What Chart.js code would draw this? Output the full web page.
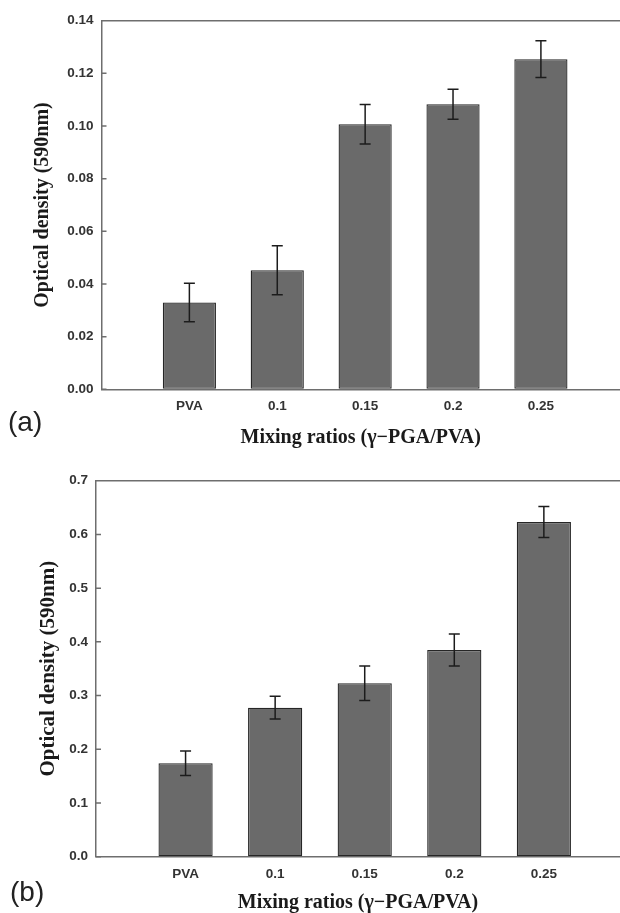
<!DOCTYPE html>
<html>
<head>
<meta charset="utf-8">
<script src="https://cdn.jsdelivr.net/npm/chart.js@4.4.0/dist/chart.umd.min.js"></script>
<style>
  body { margin: 0; background: #fff; width: 620px; height: 913px; position: relative; overflow: hidden; }
  .panel { position: absolute; left: 0; }
  .tag { position: absolute; font: 28px "Liberation Sans", Arial, sans-serif; color: #222; }
</style>
</head>
<body>
<div class="panel" style="top:0"><canvas id="chartA" width="620" height="460"></canvas></div>
<div class="panel" style="top:460px"><canvas id="chartB" width="620" height="453"></canvas></div>
<div class="tag" style="left:8px; top:406px">(a)</div>
<div class="tag" style="left:10px; top:876px">(b)</div>
<script>
// values
const categories = ['PVA', '0.1', '0.15', '0.2', '0.25'];
const odA = [0.0330, 0.0452, 0.1007, 0.1083, 0.1254];
const errA = [0.0073, 0.0093, 0.0075, 0.0057, 0.0070];
const odB = [0.174, 0.2775, 0.3228, 0.3848, 0.6232];
const errB = [0.023, 0.021, 0.032, 0.030, 0.029];
const yTicksA = [0, 0.02, 0.04, 0.06, 0.08, 0.10, 0.12, 0.14];
const yTicksB = [0, 0.1, 0.2, 0.3, 0.4, 0.5, 0.6, 0.7];

const axisColor = '#6e6e6e';
const tickFont = { family: '"Liberation Sans", Arial, sans-serif', size: 13.5, weight: 'bold' };
const titleFamily = '"Liberation Serif", "Times New Roman", serif';

// error bars, top frame line and inward y ticks
const extras = {
    id: 'extras',
    afterDatasetsDraw(chart, args, opts) {
        const ctx = chart.ctx;
        const xs = chart.scales.x, ys = chart.scales.y;
        const vals = chart.data.datasets[0].data;
        ctx.save();
        ctx.strokeStyle = '#1c1c1c';
        ctx.lineWidth = 1.5;
        vals.forEach((p, i) => {
            const x = xs.getPixelForValue(p.x);
            const y1 = ys.getPixelForValue(p.y + opts.err[i]);
            const y2 = ys.getPixelForValue(p.y - opts.err[i]);
            ctx.beginPath();
            ctx.moveTo(x, y1); ctx.lineTo(x, y2);
            ctx.moveTo(x - 5.5, y1); ctx.lineTo(x + 5.5, y1);
            ctx.moveTo(x - 5.5, y2); ctx.lineTo(x + 5.5, y2);
            ctx.stroke();
        });
        const a = chart.chartArea;
        ctx.strokeStyle = axisColor;
        ctx.beginPath();
        ctx.moveTo(a.left, a.top); ctx.lineTo(a.right, a.top);
        ys.ticks.forEach(t => {
            const y = ys.getPixelForValue(t.value);
            ctx.moveTo(a.left, y); ctx.lineTo(a.left + 5, y);
        });
        ctx.stroke();
        ctx.restore();
    }
};

function makeChart(id, values, errs, yTicks, decimals, dims) {
    return new Chart(document.getElementById(id), {
        type: 'bar',
        data: {
            datasets: [{
                data: values.map((v, i) => ({ x: i + 1, y: v })),
                backgroundColor: '#6a6a6a',
                borderColor: '#262626',
                borderWidth: 1.3,
                borderSkipped: false,
                categoryPercentage: 1,
                barPercentage: 0.605
            }]
        },
        options: {
            responsive: false,
            devicePixelRatio: 1,
            animation: false,
            layout: { padding: { top: dims.top, left: 0, right: 0, bottom: 0 } },
            plugins: {
                legend: { display: false },
                tooltip: { enabled: false },
                extras: { err: errs }
            },
            scales: {
                x: {
                    type: 'linear',
                    offset: false,
                    min: 0,
                    max: dims.xMax,
                    afterBuildTicks: s => { s.ticks = categories.map((c, i) => ({ value: i + 1 })); },
                    afterFit: s => { s.height = dims.xHeight; },
                    grid: { drawOnChartArea: false, drawTicks: false },
                    border: { color: axisColor, width: 1.5 },
                    ticks: {
                        autoSkip: false, maxRotation: 0, padding: 9,
                        color: '#333', font: tickFont,
                        callback: v => categories[v - 1]
                    },
                    title: {
                        display: true,
                        text: 'Mixing ratios (γ−PGA/PVA)',
                        color: '#1a1a1a',
                        font: { family: titleFamily, size: 20, weight: 'bold', lineHeight: 1 },
                        padding: { top: 0, bottom: dims.xTitlePad }
                    }
                },
                y: {
                    min: 0,
                    max: yTicks[yTicks.length - 1],
                    afterBuildTicks: s => { s.ticks = yTicks.map(v => ({ value: v })); },
                    afterFit: s => { s.width = dims.left; },
                    grid: { drawOnChartArea: false, drawTicks: false },
                    border: { color: axisColor, width: 1.5 },
                    ticks: {
                        padding: 8, color: '#333', font: tickFont,
                        callback: v => v.toFixed(decimals)
                    },
                    title: {
                        display: true,
                        text: 'Optical density (590nm)',
                        color: '#1a1a1a',
                        font: { family: titleFamily, size: dims.yTitleSize, weight: 'bold', lineHeight: 1 },
                        padding: { top: dims.yTitlePad, bottom: 0 }
                    }
                }
            }
        },
        plugins: [extras]
    });
}

makeChart('chartA', odA, errA, yTicksA, 2,
    { top: 20.7, left: 101.5, xMax: 5.9, xHeight: 70.7, xTitlePad: 12, yTitleSize: 20, yTitlePad: 33 });
makeChart('chartB', odB, errB, yTicksB, 1,
    { top: 20.7, left: 96, xMax: 5.85, xHeight: 56.3, xTitlePad: 0, yTitleSize: 21, yTitlePad: 38 });
</script>
</body>
</html>
